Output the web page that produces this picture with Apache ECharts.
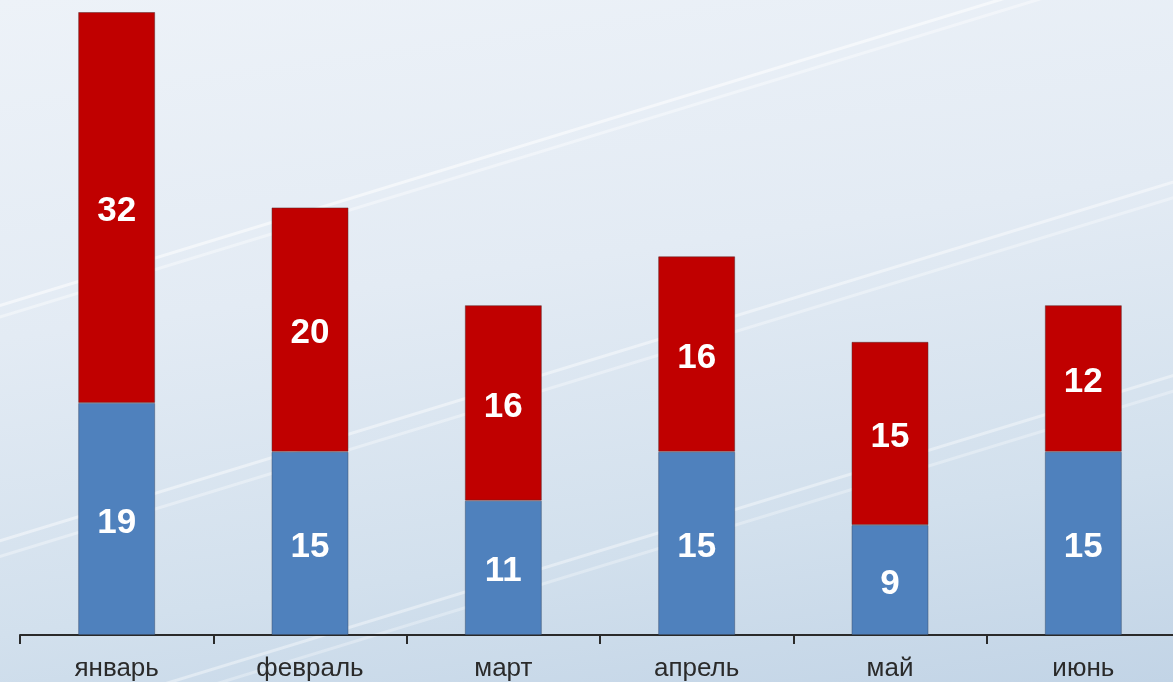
<!DOCTYPE html>
<html>
<head>
<meta charset="utf-8">
<style>
  html, body { margin: 0; padding: 0; }
  body {
    width: 1173px; height: 682px; overflow: hidden; position: relative;
    background: linear-gradient(172deg, #edf2f8 0%, #e3ebf4 40%, #d2e0ed 75%, #c2d4e6 100%);
  }
  .streaks {
    position: absolute; left: -200px; top: -100px; width: 1600px; height: 900px;
    transform: rotate(-17deg);
    background:
      linear-gradient(to bottom, transparent 0 230px, rgba(255,255,255,0.55) 231px 233px, transparent 234px 241px, rgba(255,255,255,0.4) 242px 244px, transparent 245px),
      linear-gradient(to bottom, transparent 0 455px, rgba(255,255,255,0.45) 456px 458px, transparent 459px 470px, rgba(255,255,255,0.35) 471px 473px, transparent 474px),
      linear-gradient(to bottom, transparent 0 640px, rgba(255,255,255,0.4) 641px 643px, transparent 644px 655px, rgba(255,255,255,0.3) 656px 658px, transparent 659px);
  }
  #chart { position: absolute; left: 0; top: 0; width: 1200px; height: 682px; }
</style>
<script src="https://cdn.jsdelivr.net/npm/echarts@6/dist/echarts.min.js"></script>
</head>
<body>
<div class="streaks"></div>
<div id="chart"></div>
<script>
// months and the two stacked parts
const months = ['январь', 'февраль', 'март', 'апрель', 'май', 'июнь']
const lower = [19, 15, 11, 15, 9, 15]
const upper = [32, 20, 16, 16, 15, 12]

const FONT = "'Liberation Sans', Arial, sans-serif"

const chart = echarts.init(document.getElementById('chart'))

const barLabel = {
  show: true,
  position: 'inside',
  offset: [0, 4],
  color: '#fff',
  fontSize: 35,
  fontWeight: 'bold',
  fontFamily: FONT
}

chart.setOption({
  animation: false,
  grid: { left: 20, top: 12, width: 1160, bottom: 46 },
  xAxis: {
    type: 'category',
    data: months,
    axisLine: { lineStyle: { color: '#2a2a2a', width: 2 } },
    axisTick: { show: true, length: 9, lineStyle: { color: '#2a2a2a', width: 2 } },
    axisLabel: { color: '#2a2a2a', fontSize: 26, fontFamily: FONT, margin: 21 }
  },
  yAxis: { type: 'value', min: 0, max: 51, show: false, splitLine: { show: false } },
  series: [
    {
      type: 'bar', stack: 'total', data: lower, barWidth: 77,
      itemStyle: { color: '#4f81bd', borderColor: 'rgba(60,80,110,0.5)', borderWidth: 1 },
      label: barLabel
    },
    {
      type: 'bar', stack: 'total', data: upper, barWidth: 77,
      itemStyle: { color: '#c00000', borderColor: 'rgba(90,40,40,0.5)', borderWidth: 1 },
      label: barLabel
    }
  ]
})
</script>
</body>
</html>
